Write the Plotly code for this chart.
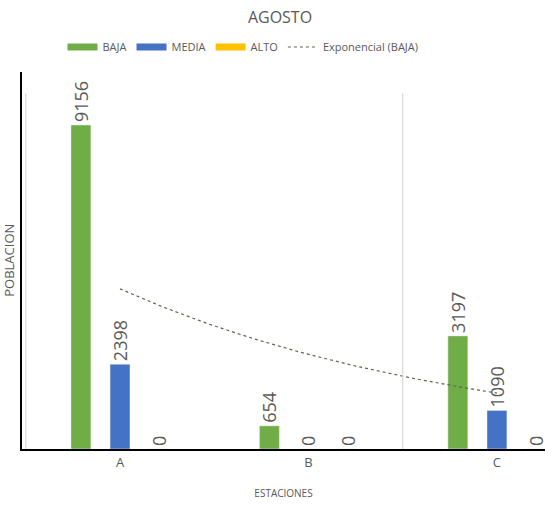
import numpy as np
import plotly.graph_objects as go

# Stations and population counts per level (August)
estaciones = ["A", "B", "C"]
baja = [9156, 654, 3197]
media = [2398, 0, 1090]
alto = [0, 0, 0]

xpos = np.arange(len(estaciones))

# Exponential trendline fitted to the BAJA series
coef = np.polyfit(xpos + 1, np.log(baja), 1)
xt = np.linspace(0, len(estaciones) - 1, 60)
yt = np.exp(np.polyval(coef, xt + 1))

grey = "#595959"
FONT = "Open Sans, Calibri, sans-serif"
lab_font = dict(family=FONT, size=18, color=grey)

series = [("BAJA", baja, "#70AD47"),
          ("MEDIA", media, "#4472C4"),
          ("ALTO", alto, "#FFC000")]

fig = go.Figure()
for name, vals, col in series:
    fig.add_trace(go.Bar(
        x=xpos, y=vals, name=name, marker_color=col, showlegend=False,
        text=[str(v) for v in vals], textposition="outside",
        textangle=-90, textfont=lab_font, cliponaxis=False,
        constraintext="none", legendgroup=name,
    ))

# legend entries drawn as wide colour strips
for name, vals, col in series:
    fig.add_trace(go.Scatter(
        x=[None], y=[None], mode="lines", name=name, legendgroup=name,
        line=dict(color=col, width=7),
    ))

fig.add_trace(go.Scatter(
    x=xt, y=yt, mode="lines", name="Exponencial (BAJA)",
    line=dict(color="#5f6650", width=1.2, dash="dot"),
))

# category separators
for xs in (-0.5, 1.5):
    fig.add_shape(type="line", xref="x", yref="paper", x0=xs, x1=xs,
                  y0=0, y1=0.942, line=dict(color="#d9d9d9", width=1.2))

fig.update_layout(
    width=555, height=510,
    margin=dict(l=22, r=10, t=68, b=61),
    paper_bgcolor="white", plot_bgcolor="white",
    barmode="group", bargap=0.378, bargroupgap=0.49,
    title=dict(text="AGOSTO", x=280 / 555, xanchor="center", y=0.965,
               yanchor="middle",
               font=dict(family=FONT, size=16, color=grey)),
    legend=dict(orientation="h", xref="container", yref="container",
                x=243 / 555, xanchor="center", y=1 - 47 / 510, yanchor="middle",
                font=dict(family=FONT, size=11, color=grey),
                itemwidth=30, traceorder="normal"),
    showlegend=True,
)

fig.update_xaxes(
    range=[-0.52, 2.255], tickmode="array", tickvals=xpos, ticktext=estaciones,
    showgrid=False, zeroline=False, showline=True, linecolor="black", linewidth=2,
    ticks="", tickfont=dict(family=FONT, size=13, color=grey),
    title=dict(text="ESTACIONES", standoff=20,
               font=dict(family=FONT, size=10, color=grey)),
)
fig.update_yaxes(
    range=[0, 10670], showgrid=False, zeroline=False, showticklabels=False,
    showline=True, linecolor="black", linewidth=2, ticks="",
    title=dict(text="POBLACION", standoff=3,
               font=dict(family=FONT, size=13, color=grey)),
)

fig.write_html("out.html")
